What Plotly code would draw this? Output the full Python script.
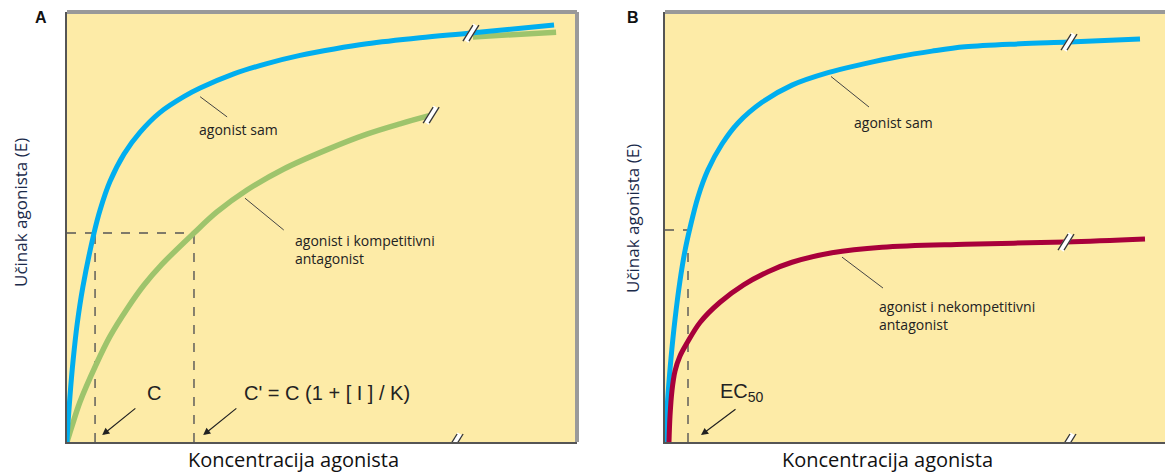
import plotly.graph_objects as go

# ---------------- data (arbitrary units: concentration 0-100, effect 0-100) ----------------
# Panel A
a_agonist_x = [0, 0.2, 0.6, 1.2, 2.0, 3.1, 5.3, 6.5, 8.4, 11.2, 14.3, 18.2, 22.9, 26.1, 32.7,
               39.2, 45.7, 52.4, 58.8, 69.2, 79.2, 95.5]
a_agonist_y = [0, 4.5, 11.0, 19.0, 27.5, 36.0, 48.6, 54.0, 60.5, 67.0, 72.0, 76.6, 80.3, 82.3, 85.6,
               88.0, 89.9, 91.4, 92.6, 94.0, 95.1, 97.0]
a_comp_x = [0, 1.0, 2.5, 5.7, 8.4, 11.8, 15.1, 18.6, 24.9, 29.4, 35.3, 42.5, 51.0, 58.8, 65.3, 71.4]
a_comp_y = [0, 3.8, 9.2, 18.0, 24.5, 31.0, 36.5, 41.3, 48.6, 53.5, 58.6, 63.5, 68.0, 71.6, 74.0, 76.0]
a_comp_tail_x = [79.6, 95.9]
a_comp_tail_y = [94.2, 95.3]
a_half_effect = 48.6
a_C = 5.5
a_C_prime = 24.9
a_breaks_x = [79.2, 71.4, 76.1]
a_breaks_y = [95.1, 76.0, 0]

# Panel B
b_agonist_x = [0, 0.2, 0.6, 1.2, 2.0, 3.0, 4.0, 5.0, 6.6, 8.6, 11.4, 14.6, 19.4, 25.4, 32.6,
               40.0, 46.6, 53.4, 60.0, 71.0, 80.8, 95.0]
b_agonist_y = [0, 4.0, 11.0, 19.5, 28.5, 37.5, 44.5, 49.8, 57.0, 63.3, 69.3, 74.2, 79.0, 83.0, 85.9,
               88.0, 89.6, 90.9, 91.9, 92.6, 93.0, 93.7]
b_noncomp_x = [0.8, 1.0, 1.4, 2.0, 3.0, 4.4, 7.0, 11.0, 15.8, 20.6, 25.4, 33.4, 43.4, 60.0, 80.2, 96.0]
b_noncomp_y = [0, 6.0, 12.0, 16.5, 20.0, 23.0, 27.8, 32.5, 36.6, 39.6, 41.8, 44.0, 45.3, 46.0, 46.5, 47.2]
b_half_effect = 49.3
b_EC50 = 4.6
b_breaks_x = [80.8, 80.2, 80.6]
b_breaks_y = [93.0, 46.5, 0]

# ---------------- styles ----------------
BG = "#FDEBA7"
BLUE = "#00AEEF"
GREEN = "#9EC46C"
RED = "#A8003B"
DASH = "#555555"
LABEL_FONT = dict(family="Open Sans", size=14, color="#222222")
FORMULA_FONT = dict(family="Liberation Sans", size=20, color="#222222")
TITLE_FONT = dict(family="Open Sans", size=17, color="#1a2a4a")
XTITLE_FONT = dict(family="Open Sans", size=20, color="#111111")

W, H = 1165, 473
fig = go.Figure()

def line(x, y, color, width, xa="x", ya="y"):
    fig.add_trace(go.Scatter(x=x, y=y, mode="lines", xaxis=xa, yaxis=ya,
                             line=dict(color=color, width=width, shape="spline", smoothing=1.0),
                             hoverinfo="skip", showlegend=False))

def dashed(x, y, xa, ya):
    fig.add_trace(go.Scatter(x=x, y=y, mode="lines", xaxis=xa, yaxis=ya,
                             line=dict(color=DASH, width=1.4, dash="dash"),
                             hoverinfo="skip", showlegend=False))

# Panel A dashed guides
dashed([0, a_C_prime], [a_half_effect, a_half_effect], "x", "y")
dashed([a_C, a_C], [0, a_half_effect], "x", "y")
dashed([a_C_prime, a_C_prime], [0, a_half_effect], "x", "y")
# Panel B dashed guides
dashed([0, b_EC50], [b_half_effect, b_half_effect], "x2", "y2")
dashed([b_EC50, b_EC50], [0, b_half_effect], "x2", "y2")

# Curves
line(a_comp_x, a_comp_y, GREEN, 5.5)
line(a_comp_tail_x, a_comp_tail_y, GREEN, 5.5)
line(a_agonist_x, a_agonist_y, BLUE, 5)
line(b_agonist_x, b_agonist_y, BLUE, 5, "x2", "y2")
line(b_noncomp_x, b_noncomp_y, RED, 5, "x2", "y2")

shapes = []

# frame borders
for xr, yr in (("x domain", "y domain"), ("x2 domain", "y2 domain")):
    shapes.append(dict(type="line", xref=xr, yref=yr, x0=0, x1=1, y0=1, y1=1,
                       line=dict(color="#999999", width=4)))
shapes.append(dict(type="line", xref="x domain", yref="y domain", x0=1, x1=1, y0=0, y1=1,
                   line=dict(color="#9a9a9a", width=4)))

# axis break marks "//"
def brk(xa, ya, bx, by):
    common = dict(type="line", xref=xa, yref=ya, xsizemode="pixel", ysizemode="pixel",
                  xanchor=bx, yanchor=by)
    shapes.append(dict(common, x0=-5, x1=5, y0=-8, y1=8, line=dict(color="white", width=6)))
    shapes.append(dict(common, x0=-8, x1=2, y0=-8, y1=8, line=dict(color="#333333", width=1.3)))
    shapes.append(dict(common, x0=-2, x1=8, y0=-8, y1=8, line=dict(color="#333333", width=1.3)))

for bx, by in zip(a_breaks_x, a_breaks_y):
    brk("x", "y", bx, by)
for bx, by in zip(b_breaks_x, b_breaks_y):
    brk("x2", "y2", bx, by)

# leader lines
def leader(xa, ya, x0, y0, x1, y1):
    shapes.append(dict(type="line", xref=xa, yref=ya, x0=x0, y0=y0, x1=x1, y1=y1,
                       line=dict(color="#444444", width=1)))

leader("x", "y", 26.1, 80.3, 31.4, 75.6)
leader("x", "y", 34.9, 56.7, 42.5, 49.3)
leader("x2", "y2", 33.2, 85.0, 40.8, 77.9)
leader("x2", "y2", 35.4, 43.0, 43.6, 35.8)

ann = []
def text(xa, ya, x, y, t, font, xanchor="left"):
    ann.append(dict(xref=xa, yref=ya, x=x, y=y, text=t, showarrow=False, font=font,
                    xanchor=xanchor, yanchor="middle", align="left"))

text("x", "y", 25.5, 72.6, "agonist sam", LABEL_FONT)
text("x", "y", 44.3, 44.7, "agonist i kompetitivni<br>antagonist", LABEL_FONT)
text("x2", "y2", 37.4, 74.2, "agonist sam", LABEL_FONT)
text("x2", "y2", 42.4, 29.5, "agonist i nekompetitivni<br>antagonist", LABEL_FONT)
text("x", "y", 15.2, 11.4, "C", FORMULA_FONT)
text("x", "y", 34.4, 11.4, "C' = C (1 + [ I ] / K)", FORMULA_FONT)
text("x2", "y2", 10.6, 11.4, "EC<sub>50</sub>", FORMULA_FONT)

def arrow(xa, ya, hx, hy, tx, ty):
    ann.append(dict(xref=xa, yref=ya, axref=xa, ayref=ya, x=hx, y=hy, ax=tx, ay=ty,
                    text="", showarrow=True, arrowhead=2, arrowsize=1.2, arrowwidth=1.2,
                    arrowcolor="#222222"))

arrow("x", "y", 6.9, 1.6, 13.7, 8.1)
arrow("x", "y", 26.7, 1.6, 33.5, 8.1)
arrow("x2", "y2", 7.2, 1.6, 14.4, 7.9)

# panel letters and axis titles (paper coords)
def ptext(px, py, t, font, angle=0):
    ann.append(dict(xref="paper", yref="paper", x=px / W, y=1 - py / H, text=t, showarrow=False,
                    font=font, textangle=angle, xanchor="center", yanchor="middle"))

ptext(41, 18, "<b>A</b>", dict(family="Liberation Sans", size=16, color="#111111"))
ptext(633, 18, "<b>B</b>", dict(family="Liberation Sans", size=16, color="#111111"))
ptext(20, 213, "Učinak agonista (E)", TITLE_FONT, -90)
ptext(632, 218, "Učinak agonista (E)", TITLE_FONT, -90)
ptext(293, 459, "Koncentracija agonista", XTITLE_FONT)
ptext(887, 459, "Koncentracija agonista", XTITLE_FONT)

ax_common = dict(range=[0, 100], showticklabels=False, ticks="", showgrid=False, zeroline=False,
                 showline=True, linecolor="#555555", linewidth=1.5, fixedrange=True)
ydom = [31 / H, 461 / H]
fig.update_layout(
    width=W, height=H, margin=dict(l=0, r=0, t=0, b=0),
    paper_bgcolor="white", plot_bgcolor=BG,
    xaxis=dict(ax_common, domain=[67 / W, 577 / W], anchor="y"),
    yaxis=dict(ax_common, domain=ydom, anchor="x"),
    xaxis2=dict(ax_common, domain=[665 / W, 1.0], anchor="y2"),
    yaxis2=dict(ax_common, domain=ydom, anchor="x2"),
    shapes=shapes, annotations=ann, showlegend=False,
)

fig.write_html("out.html", config={"displayModeBar": False},
               post_script="document.body.style.margin='0px';")
